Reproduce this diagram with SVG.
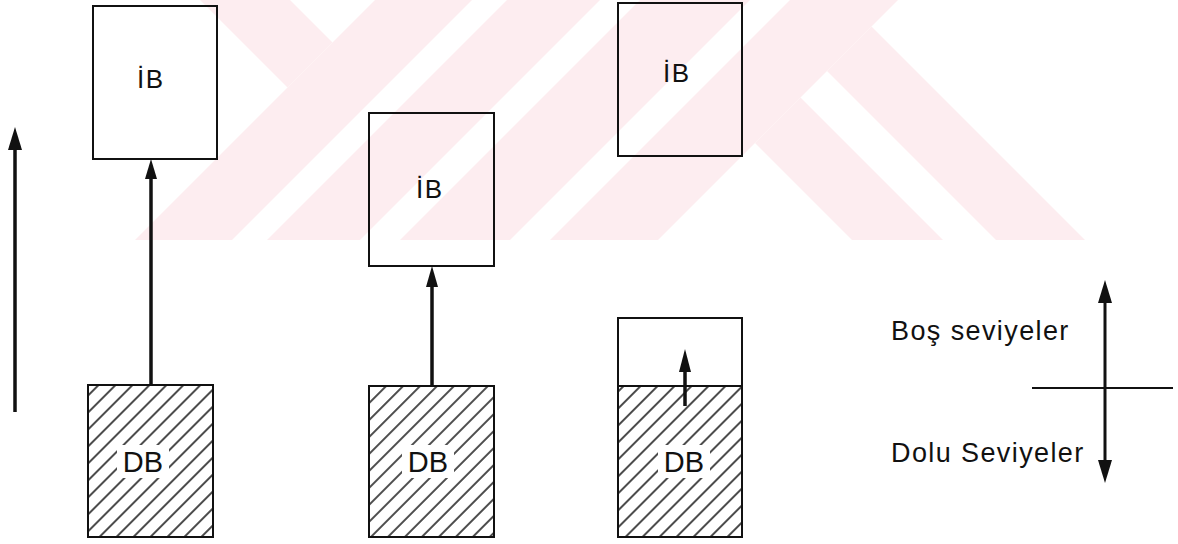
<svg xmlns="http://www.w3.org/2000/svg" width="1178" height="544" viewBox="0 0 1178 544">
  <style>
    .box { fill: none; stroke: #111; stroke-width: 2; }
    .shaft { stroke: #111; stroke-width: 3.5; fill: none; }
    .head { fill: #111; stroke: none; }
    .thin { stroke: #111; stroke-width: 2.2; fill: none; }
    .axis { stroke: #111; stroke-width: 3; fill: none; }
    .lbl { font-family: "Liberation Sans", Arial, sans-serif; fill: #111; }
    .ib { font-size: 26px; letter-spacing: 1.5px; }
    .db { font-size: 29px; }
    .leg { font-size: 27px; letter-spacing: 1.4px; }
    .mark { fill: #fdedf0; }
    .gap { fill: #fff; }
  </style>
  <defs>
    <pattern id="hatch" patternUnits="userSpaceOnUse" width="12" height="12" patternTransform="rotate(45)">
      <line x1="6" y1="0" x2="6" y2="12" stroke="#111" stroke-width="1.5"/>
    </pattern>
  </defs>

  <rect width="1178" height="544" fill="#fff"/>

  <!-- background emblem: diagonal bands -->
  <g id="emblem">
    <polygon class="mark" points="200,0 290,0 332.5,42.5 287.5,87.5"/>
    <polygon class="mark" points="375,0 472,0 232,240 135,240"/>
    <polygon class="mark" points="507,0 600,0 360,240 267,240"/>
    <polygon class="mark" points="640,0 750,0 510,240 400,240"/>
    <polygon class="mark" points="790,0 898,0 658,240 550,240"/>
    <polygon class="mark" points="755,143 800.5,97.5 943,240 852,240"/>
    <polygon class="mark" points="827,71 871.5,26.5 1085,240 996,240"/>
  </g>

  <!-- column 1 -->
  <g id="ib1">
    <rect class="box" x="93" y="6" width="124" height="153"/>
    <text class="lbl ib" x="137" y="88">İB</text>
  </g>
  <g id="db1">
    <rect x="88" y="385" width="125" height="152" fill="url(#hatch)"/>
    <rect class="gap" x="117" y="445" width="52" height="33"/>
    <rect class="box" x="88" y="385" width="125" height="152"/>
    <text class="lbl db" x="143" y="472" text-anchor="middle">DB</text>
  </g>

  <!-- column 2 -->
  <g id="ib2">
    <rect class="box" x="369" y="113" width="125" height="153"/>
    <text class="lbl ib" x="416" y="198">İB</text>
  </g>
  <g id="db2">
    <rect x="369" y="386" width="125" height="151" fill="url(#hatch)"/>
    <rect class="gap" x="402" y="445" width="52" height="33"/>
    <rect class="box" x="369" y="386" width="125" height="151"/>
    <text class="lbl db" x="428" y="472" text-anchor="middle">DB</text>
  </g>

  <!-- column 3 -->
  <g id="ib3">
    <rect class="box" x="618" y="3" width="124" height="153"/>
    <text class="lbl ib" x="663" y="82">İB</text>
  </g>
  <g id="db3">
    <rect x="618" y="386" width="124" height="151" fill="url(#hatch)"/>
    <rect class="gap" x="658" y="445" width="52" height="33"/>
    <rect class="box" x="618" y="318" width="124" height="219"/>
    <line class="box" x1="618" y1="386" x2="742" y2="386"/>
    <text class="lbl db" x="684" y="472" text-anchor="middle">DB</text>
  </g>

  <!-- legend -->
  <g id="legend">
    <text class="lbl leg" x="891" y="340">Boş seviyeler</text>
    <text class="lbl leg" x="891" y="462">Dolu Seviyeler</text>
    <line class="thin" x1="1032" y1="388" x2="1173" y2="388"/>
  </g>

  <!-- connectors -->
  <g id="connectors">
    <line class="shaft" x1="15" y1="412" x2="15" y2="146"/>
    <polygon class="head" points="15,127 22,150 8,150"/>

    <line class="shaft" x1="151" y1="385" x2="151" y2="176"/>
    <polygon class="head" points="151,159 157,179 145,179"/>

    <line class="shaft" x1="432" y1="386" x2="432" y2="283"/>
    <polygon class="head" points="432,266 438,287 426,287"/>

    <line class="shaft" x1="685" y1="406" x2="685" y2="368"/>
    <polygon class="head" points="685,349 691,372 679,372"/>

    <line class="axis" x1="1105" y1="298" x2="1105" y2="465"/>
    <polygon class="head" points="1105,280 1112,303 1098,303"/>
    <polygon class="head" points="1105,483 1112,460 1098,460"/>
  </g>
</svg>
